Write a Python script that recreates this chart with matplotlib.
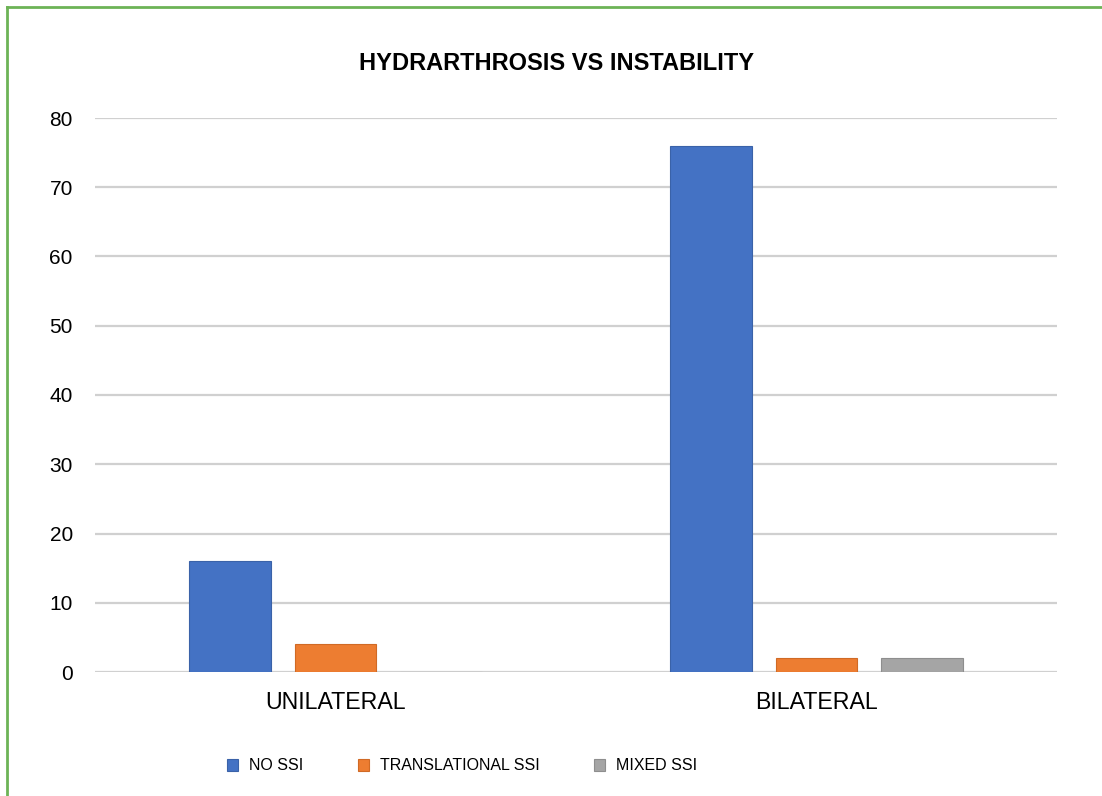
import matplotlib.pyplot as plt
from matplotlib.lines import Line2D
import numpy as np

plt.rcParams['font.family'] = ['Liberation Sans', 'DejaVu Sans']

# Datos
categorias = ['UNILATERAL', 'BILATERAL']
series = ['NO SSI', 'TRANSLATIONAL SSI', 'MIXED SSI']
no_ssi = [16, 76]
translational_ssi = [4, 2]
mixed_ssi = [0, 2]
colores = ['#4472C4', '#ED7D31', '#A5A5A5']
bordes = ['#3A62A8', '#D06A25', '#8E8E8E']

fig = plt.figure(figsize=(11.02, 7.96), dpi=100)
ax = fig.add_axes([95 / 1102, 1 - 672 / 796, 962 / 1102, 554 / 796])

x = np.arange(len(categorias))
ancho = 0.17
paso = 0.22
valores = [no_ssi, translational_ssi, mixed_ssi]
for i, (nombre, vals) in enumerate(zip(series, valores)):
    ax.bar(x + (i - 1) * paso, vals, width=ancho, color=colores[i],
           edgecolor=bordes[i], linewidth=0.8, label=nombre, zorder=3)

ax.set_xlim(-0.5, 1.5)
ax.set_ylim(0, 80)
ax.set_yticks(range(0, 81, 10))
ax.set_xticks(x)
ax.set_xticklabels(categorias, fontsize=16.7)
ax.tick_params(axis='x', length=0, pad=14)
ax.tick_params(axis='y', length=0, pad=16, labelsize=15)
ax.grid(axis='y', color='#D0D0D0', linewidth=1.6, zorder=0)
for s in ax.spines.values():
    s.set_visible(False)

fig.text(557 / 1102, 1 - 63 / 796, 'HYDRARTHROSIS VS INSTABILITY',
         ha='center', va='center', fontsize=17, fontweight='bold')

fig.legend(loc='center', bbox_to_anchor=(462 / 1102, 1 - 766 / 796), ncol=3,
           frameon=False, fontsize=11.5, handlelength=0.7, handleheight=0.8,
           handletextpad=0.7, columnspacing=3.4)

# Borde verde de la figura (izquierda y arriba)
verde = '#6DB356'
fig.add_artist(Line2D([7 / 1102, 7 / 1102], [0, 1 - 7 / 796], color=verde, linewidth=2))
fig.add_artist(Line2D([7 / 1102, 1], [1 - 7 / 796, 1 - 7 / 796], color=verde, linewidth=2))

fig.savefig('out.png', dpi=100)
